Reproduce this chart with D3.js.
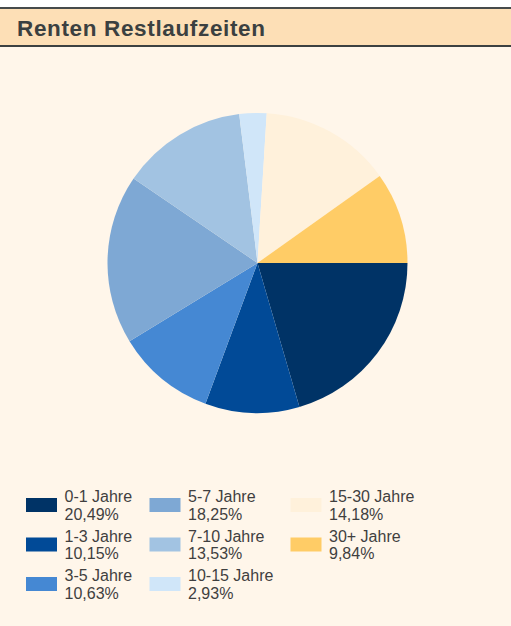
<!DOCTYPE html>
<html>
<head>
<meta charset="utf-8">
<script src="https://cdn.jsdelivr.net/npm/d3@7"></script>
<style>
  html, body { margin: 0; padding: 0; background: #ffffff; }
  svg { display: block; }
  text { font-family: "Liberation Sans", Arial, sans-serif; }
</style>
</head>
<body>
<svg id="chart" width="511" height="626"></svg>
<script>
const title = "Renten Restlaufzeiten";
const categories = ["0-1 Jahre", "1-3 Jahre", "3-5 Jahre", "5-7 Jahre", "7-10 Jahre", "10-15 Jahre", "15-30 Jahre", "30+ Jahre"];
const values = [20.49, 10.15, 10.63, 18.25, 13.53, 2.93, 14.18, 9.84];
const valueLabels = ["20,49%", "10,15%", "10,63%", "18,25%", "13,53%", "2,93%", "14,18%", "9,84%"];
const colors = ["#003366", "#014a97", "#4588d3", "#7ea8d4", "#a2c3e2", "#d0e6f9", "#fff1db", "#ffcc66"];

const svg = d3.select("#chart");
const W = 511, H = 626;

// background
svg.append("rect").attr("x", 0).attr("y", 0).attr("width", W).attr("height", H).attr("fill", "#fff6ea");
svg.append("rect").attr("x", 0).attr("y", 0).attr("width", W).attr("height", 7).attr("fill", "#ffffff");

// header
svg.append("rect").attr("x", 0).attr("y", 8).attr("width", W).attr("height", 38).attr("fill", "#fddfb6");
svg.append("rect").attr("x", 0).attr("y", 7).attr("width", W).attr("height", 2).attr("fill", "#464b4b");
svg.append("rect").attr("x", 0).attr("y", 45).attr("width", W).attr("height", 2).attr("fill", "#3c4141");
svg.append("text")
  .attr("x", 17).attr("y", 36)
  .attr("font-weight", "bold")
  .attr("font-size", 22.5)
  .attr("textLength", 248)
  .attr("lengthAdjust", "spacing")
  .attr("fill", "#3b4040")
  .text(title);

// pie
const data = categories.map((c, i) => ({ cat: c, value: values[i], label: valueLabels[i], color: colors[i] }));
const pie = d3.pie().sort(null).value(d => d.value).startAngle(Math.PI / 2).endAngle(Math.PI / 2 + 2 * Math.PI);
const arc = d3.arc().innerRadius(0).outerRadius(150);
const g = svg.append("g").attr("transform", "translate(257.5,263)");
g.selectAll("path").data(pie(data)).join("path")
  .attr("d", arc)
  .attr("fill", d => d.data.color);

// legend
const colX = [26, 149.5, 290.5];
const rowY = [498, 537.5, 577];
const lg = svg.append("g");
data.forEach((d, i) => {
  const col = Math.floor(i / 3), row = i % 3;
  const x = colX[col], y = rowY[row];
  lg.append("rect").attr("x", x).attr("y", y).attr("width", 31).attr("height", 14).attr("fill", d.color);
  const t = lg.append("text")
    .attr("font-size", 16)
    .attr("fill", "#3f3f3f");
  t.append("tspan").attr("x", x + 38.5).attr("y", y + 4).text(d.cat);
  t.append("tspan").attr("x", x + 38.5).attr("y", y + 21.5).text(d.label);
});
</script>
</body>
</html>
